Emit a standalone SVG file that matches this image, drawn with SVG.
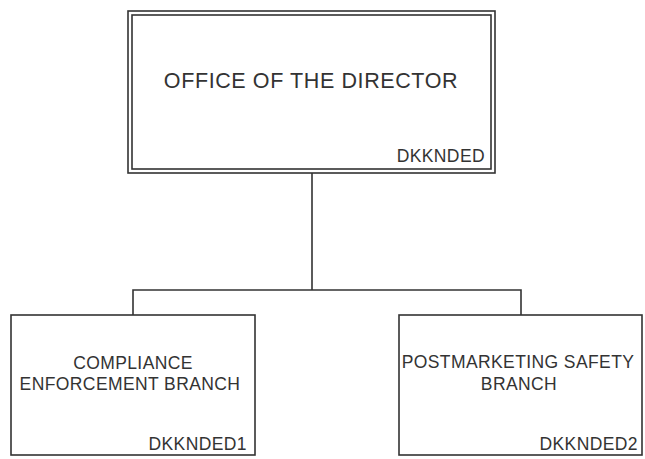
<svg xmlns="http://www.w3.org/2000/svg" width="645" height="459" viewBox="0 0 645 459">
<style>
.box{fill:#fff;stroke:#333;stroke-width:1.6}
.ln{fill:none;stroke:#333;stroke-width:1.6}
.t{font-family:"Liberation Sans",Arial,sans-serif;fill:#333;font-size:17.5px;letter-spacing:0.4px}
.title{font-size:21.5px;letter-spacing:0.6px}
.m{text-anchor:middle}
.e{text-anchor:end}
</style>
<rect width="645" height="459" fill="#fff"/>
<g id="connectors">
<path class="ln" d="M312 173V290M133 315V290H521V315"/>
</g>
<g id="director">
<rect class="box" x="128" y="11" width="367" height="162"/>
<rect class="box" x="132" y="15" width="359" height="154"/>
<text class="t title m" x="311" y="88">OFFICE OF THE DIRECTOR</text>
<text class="t e" x="485" y="162">DKKNDED</text>
</g>
<g id="compliance">
<rect class="box" x="11" y="315" width="244" height="140"/>
<text class="t m" x="133" y="369">COMPLIANCE</text>
<text class="t m" x="130" y="390">ENFORCEMENT BRANCH</text>
<text class="t e" x="247" y="450">DKKNDED1</text>
</g>
<g id="postmarketing">
<rect class="box" x="399" y="315" width="243" height="140"/>
<text class="t m" x="518" y="368">POSTMARKETING SAFETY</text>
<text class="t m" x="519" y="390">BRANCH</text>
<text class="t e" x="638" y="450">DKKNDED2</text>
</g>
</svg>
